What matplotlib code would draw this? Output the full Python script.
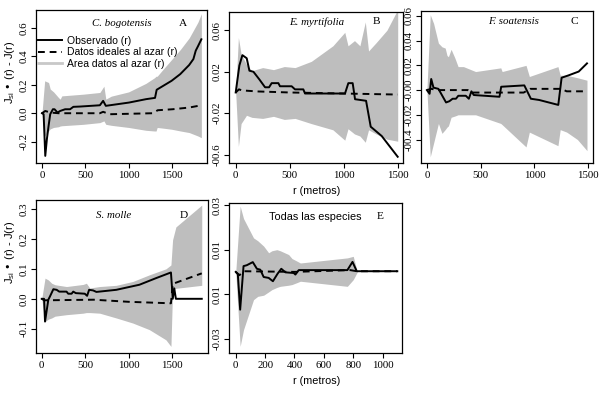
import numpy as np
import matplotlib
matplotlib.use("Agg")
import matplotlib.pyplot as plt
from matplotlib.lines import Line2D

# ---- data ----
# A  C. bogotensis
a_obs_x = [0, 19, 38, 57, 76, 95, 126, 145, 179, 210, 267, 324, 362, 439, 668, 706, 737, 1004, 1202, 1305, 1324, 1496, 1596, 1699, 1748, 1775, 1800, 1840]
a_obs_y = [0.0, -0.007, -0.30, -0.18, -0.09, -0.007, 0.028, 0.028, 0.005, 0.016, 0.028, 0.028, 0.045, 0.047, 0.056, 0.087, 0.052, 0.075, 0.099, 0.108, 0.165, 0.228, 0.275, 0.339, 0.381, 0.44, 0.47, 0.52]
a_rnd_x = [0, 38, 95, 191, 668, 706, 782, 1279, 1336, 1508, 1699, 1840]
a_rnd_y = [0.0, 0.016, 0.005, 0.0, 0.0, 0.01, -0.007, 0.0, 0.021, 0.028, 0.04, 0.056]
a_env_x = [0, 31, 76, 95, 134, 191, 210, 229, 477, 668, 715, 737, 800, 1000, 1200, 1300, 1317, 1330, 1400, 1500, 1600, 1700, 1800, 1840]
a_env_hi = [0.0, 0.228, 0.216, 0.17, 0.15, 0.11, 0.099, 0.122, 0.134, 0.146, 0.19, 0.099, 0.12, 0.15, 0.21, 0.25, 0.26, 0.26, 0.31, 0.38, 0.45, 0.53, 0.64, 0.70]
a_env_lo = [0.0, -0.16, -0.125, -0.11, -0.10, -0.095, -0.09, -0.088, -0.078, -0.066, -0.054, -0.078, -0.085, -0.10, -0.12, -0.125, -0.125, -0.10, -0.105, -0.113, -0.125, -0.136, -0.16, -0.172]

# B  E. myrtifolia
b_obs_x = [0, 34, 62, 102, 127, 164, 219, 272, 309, 333, 395, 410, 518, 549, 626, 642, 1012, 1043, 1083, 1105, 1207, 1250, 1352, 1500]
b_obs_y = [0.0, 0.026, 0.036, 0.033, 0.021, 0.020, 0.0126, 0.005, 0.005, 0.009, 0.009, 0.006, 0.006, 0.003, 0.003, -0.001, -0.001, 0.009, 0.009, -0.0065, -0.008, -0.033, -0.042, -0.062]
b_rnd_x = [0, 30, 60, 200, 500, 1000, 1500]
b_rnd_y = [0.0, 0.003, 0.002, 0.001, 0.0, -0.001, -0.002]
b_env_x = [0, 25, 50, 100, 150, 250, 350, 450, 550, 700, 900, 1010, 1040, 1100, 1150, 1200, 1230, 1300, 1400, 1500]
b_env_hi = [0.0, 0.053, 0.037, 0.027, 0.021, 0.024, 0.022, 0.025, 0.024, 0.030, 0.045, 0.058, 0.045, 0.050, 0.045, 0.068, 0.040, 0.048, 0.060, 0.080]
b_env_lo = [0.0, -0.052, -0.030, -0.022, -0.024, -0.025, -0.023, -0.026, -0.025, -0.030, -0.036, -0.046, -0.035, -0.040, -0.042, -0.048, -0.036, -0.040, -0.045, -0.047]

# C  F. soatensis
c_obs_x = [0, 25, 40, 61, 107, 178, 209, 239, 270, 292, 362, 390, 414, 436, 675, 691, 906, 967, 1044, 1222, 1253, 1320, 1412, 1489]
c_obs_y = [0.0, -0.003, 0.009, 0.002, 0.001, -0.010, -0.009, -0.007, -0.007, -0.0046, -0.0046, -0.007, -0.001, -0.004, -0.0054, 0.0027, 0.0038, -0.007, -0.008, -0.012, 0.010, 0.012, 0.015, 0.0216]
c_rnd_x = [0, 40, 100, 380, 420, 900, 960, 1250, 1300, 1489]
c_rnd_y = [0.0, 0.001, 0.0, 0.0, -0.002, -0.002, 0.001, 0.001, -0.001, -0.001]
c_env_x = [0, 31, 62, 107, 140, 170, 187, 200, 225, 260, 290, 340, 453, 687, 700, 922, 953, 1219, 1240, 1300, 1400, 1489]
c_env_hi = [0.0, 0.061, 0.054, 0.038, 0.035, 0.034, 0.028, 0.027, 0.033, 0.026, 0.019, 0.019, 0.015, 0.018, 0.015, 0.020, 0.011, 0.019, 0.012, 0.012, 0.010, 0.008]
c_env_lo = [0.0, -0.054, -0.043, -0.027, -0.035, -0.032, -0.030, -0.029, -0.022, -0.021, -0.020, -0.020, -0.020, -0.027, -0.028, -0.046, -0.034, -0.045, -0.032, -0.034, -0.040, -0.049]

# D  S. molle
d_obs_x = [0, 27, 38, 76, 95, 134, 172, 202, 286, 305, 344, 363, 393, 496, 523, 546, 592, 630, 859, 1126, 1317, 1489, 1510, 1527, 1546, 1844]
d_obs_y = [0.0, 0.0, -0.076, -0.003, 0.008, 0.032, 0.030, 0.024, 0.024, 0.017, 0.017, 0.024, 0.019, 0.017, 0.010, 0.030, 0.028, 0.023, 0.030, 0.047, 0.069, 0.088, 0.0, 0.035, 0.0, 0.0]
d_rnd_x = [0, 30, 600, 1000, 1489, 1510, 1844]
d_rnd_y = [0.0, -0.005, -0.003, -0.010, -0.015, 0.05, 0.085]
d_env_x = [0, 38, 76, 115, 153, 286, 477, 515, 553, 668, 859, 1050, 1240, 1431, 1489, 1508, 1546, 1844]
d_env_hi = [0.0, 0.069, 0.063, 0.052, 0.047, 0.041, 0.048, 0.052, 0.036, 0.041, 0.045, 0.058, 0.080, 0.100, 0.113, 0.197, 0.24, 0.313]
d_env_lo = [0.0, -0.076, -0.068, -0.064, -0.058, -0.053, -0.048, -0.046, -0.046, -0.048, -0.064, -0.081, -0.103, -0.137, -0.159, 0.03, 0.035, 0.045]

# E  Todas las especies
e_obs_x = [0, 14, 30, 53, 75, 116, 144, 167, 190, 224, 253, 285, 310, 338, 395, 406, 429, 760, 795, 824, 1100]
e_obs_y = [0.0, -0.001, -0.017, 0.0026, 0.003, 0.0044, 0.0014, 0.001, -0.0023, -0.0027, -0.0042, -0.0008, 0.0014, -0.0002, -0.0005, -0.0012, 0.0008, 0.0008, 0.0045, 0.0003, 0.0003]
e_rnd_x = [0, 25, 53, 400, 780, 824, 1100]
e_rnd_y = [0.0, -0.0015, 0.0003, 0.0, 0.0008, 0.0003, 0.0003]
e_env_x = [0, 30, 53, 121, 150, 190, 224, 246, 280, 303, 360, 383, 418, 440, 760, 800, 828]
e_env_hi = [0.0, 0.0296, 0.024, 0.0153, 0.014, 0.0116, 0.0086, 0.0095, 0.010, 0.0095, 0.0078, 0.006, 0.0048, 0.004, 0.0063, 0.007, 0.0]
e_env_lo = [0.0, -0.0335, -0.026, -0.0125, -0.011, -0.0105, -0.009, -0.008, -0.007, -0.0065, -0.006, -0.0057, -0.0048, -0.0042, -0.0065, -0.0035, 0.0]

serif = "Liberation Serif"
sans = "Liberation Sans"
W, H = 609, 393
GRAY = "#bebebe"

fig = plt.figure(figsize=(W / 100, H / 100), dpi=100)


def rect(l, t, r, b):
    return [l / W, 1 - b / H, (r - l) / W, (b - t) / H]


def panel(box, ex, hi, lo, ox, oy, rx, ry, xlim, ylim, yt, ytl, xt, name, letter,
          name_font, nx, lx, ty):
    ax = fig.add_axes(rect(*box))
    ax.fill_between(ex, lo, hi, color=GRAY, lw=0, label="Area datos al azar (r)")
    ax.plot(ox, oy, color="black", lw=1.4, label="Observado (r)")
    ax.plot(rx, ry, color="black", lw=1.4, ls=(0, (3.5, 2.5)), label="Datos ideales al azar (r)")
    ax.set_xlim(*xlim)
    ax.set_ylim(*ylim)
    ax.set_xticks(xt)
    ax.set_xticklabels([str(v) for v in xt], fontfamily=serif, fontsize=7.8)
    ax.set_yticks(yt)
    ax.set_yticklabels(ytl, fontfamily=serif, fontsize=7.8, rotation=90, va="center")
    ax.tick_params(length=3.5, width=0.8, pad=2)
    for s in ax.spines.values():
        s.set_linewidth(0.9)
    ax.text(nx, ty, name, transform=ax.transAxes, ha="center", va="center", **name_font)
    ax.text(lx, ty, letter, transform=ax.transAxes, ha="center", va="center",
            fontfamily=serif, fontsize=8.2)
    return ax


ital = dict(fontfamily=serif, style="italic", fontsize=7.8)

axA = panel((36, 10, 207, 163), a_env_x, a_env_hi, a_env_lo, a_obs_x, a_obs_y, a_rnd_x, a_rnd_y,
            (-69, 1905), (-0.35, 0.726), [-0.2, 0.0, 0.2, 0.4, 0.6],
            ["-0.2", "0.0", "0.2", "0.4", "0.6"], [0, 500, 1000, 1500],
            "C. bogotensis", "A", ital, 0.50, 0.86, 0.91)
h, l = axA.get_legend_handles_labels()
h = [h[1], h[2], Line2D([], [], color="#c8c8c8", lw=2)]
l = [l[1], l[2], l[0]]
axA.legend(h, l, loc="upper left", bbox_to_anchor=(0.01, 0.83), frameon=False,
           prop=dict(family=sans, size=7.5), handlelength=2.3, handletextpad=0.5,
           labelspacing=0.12, borderpad=0, borderaxespad=0)

panel((229, 12, 403, 163), b_env_x, b_env_hi, b_env_lo, b_obs_x, b_obs_y, b_rnd_x, b_rnd_y,
      (-62, 1549), (-0.068, 0.0776), [-0.06, -0.02, 0.02, 0.06],
      ["-00.6", "-0.02", "0.02", "0.06"], [0, 500, 1000, 1500],
      "E. myrtifolia", "B", ital, 0.506, 0.85, 0.934)

panel((421, 11, 593, 163), c_env_x, c_env_hi, c_env_lo, c_obs_x, c_obs_y, c_rnd_x, c_rnd_y,
      (-55, 1545), (-0.059, 0.064), [-0.04, -0.02, 0.0, 0.02, 0.04, 0.06],
      ["-00.4", "-0.02", "-0.00", "0.02", "0.04", "0.06"], [0, 500, 1000, 1500],
      "F. soatensis", "C", ital, 0.535, 0.89, 0.93)

panel((36, 200, 208, 353), d_env_x, d_env_hi, d_env_lo, d_obs_x, d_obs_y, d_rnd_x, d_rnd_y,
      (-66, 1916), (-0.181, 0.33), [-0.1, 0.0, 0.1, 0.2, 0.3],
      ["-0.1", "0.0", "0.1", "0.2", "0.3"], [0, 500, 1000, 1500],
      "S. molle", "D", ital, 0.45, 0.86, 0.90)

panel((229, 203, 402, 353), e_env_x, e_env_hi, e_env_lo, e_obs_x, e_obs_y, e_rnd_x, e_rnd_y,
      (-46, 1132), (-0.0365, 0.031), [-0.03, -0.01, 0.01, 0.03],
      ["-0.03", "0.01", "0.01", "0.03"], [0, 200, 400, 600, 800, 1000],
      "Todas las especies", "E", dict(fontfamily=sans, fontsize=7.8), 0.50, 0.873, 0.907)

ylab = "J$_{\\mathregular{si}}$ \u2022 (r) - J(r)"
fig.text(10 / W, 1 - 72 / H, ylab, rotation=90, ha="center", va="center",
         fontfamily=sans, fontsize=8)
fig.text(10 / W, 1 - 252 / H, ylab, rotation=90, ha="center", va="center",
         fontfamily=sans, fontsize=8)
fig.text(317 / W, 1 - 191 / H, "r (metros)", ha="center", va="center",
         fontfamily=sans, fontsize=7.8)
fig.text(317 / W, 1 - 381 / H, "r (metros)", ha="center", va="center",
         fontfamily=sans, fontsize=7.8)

fig.savefig("out.png", dpi=100)
